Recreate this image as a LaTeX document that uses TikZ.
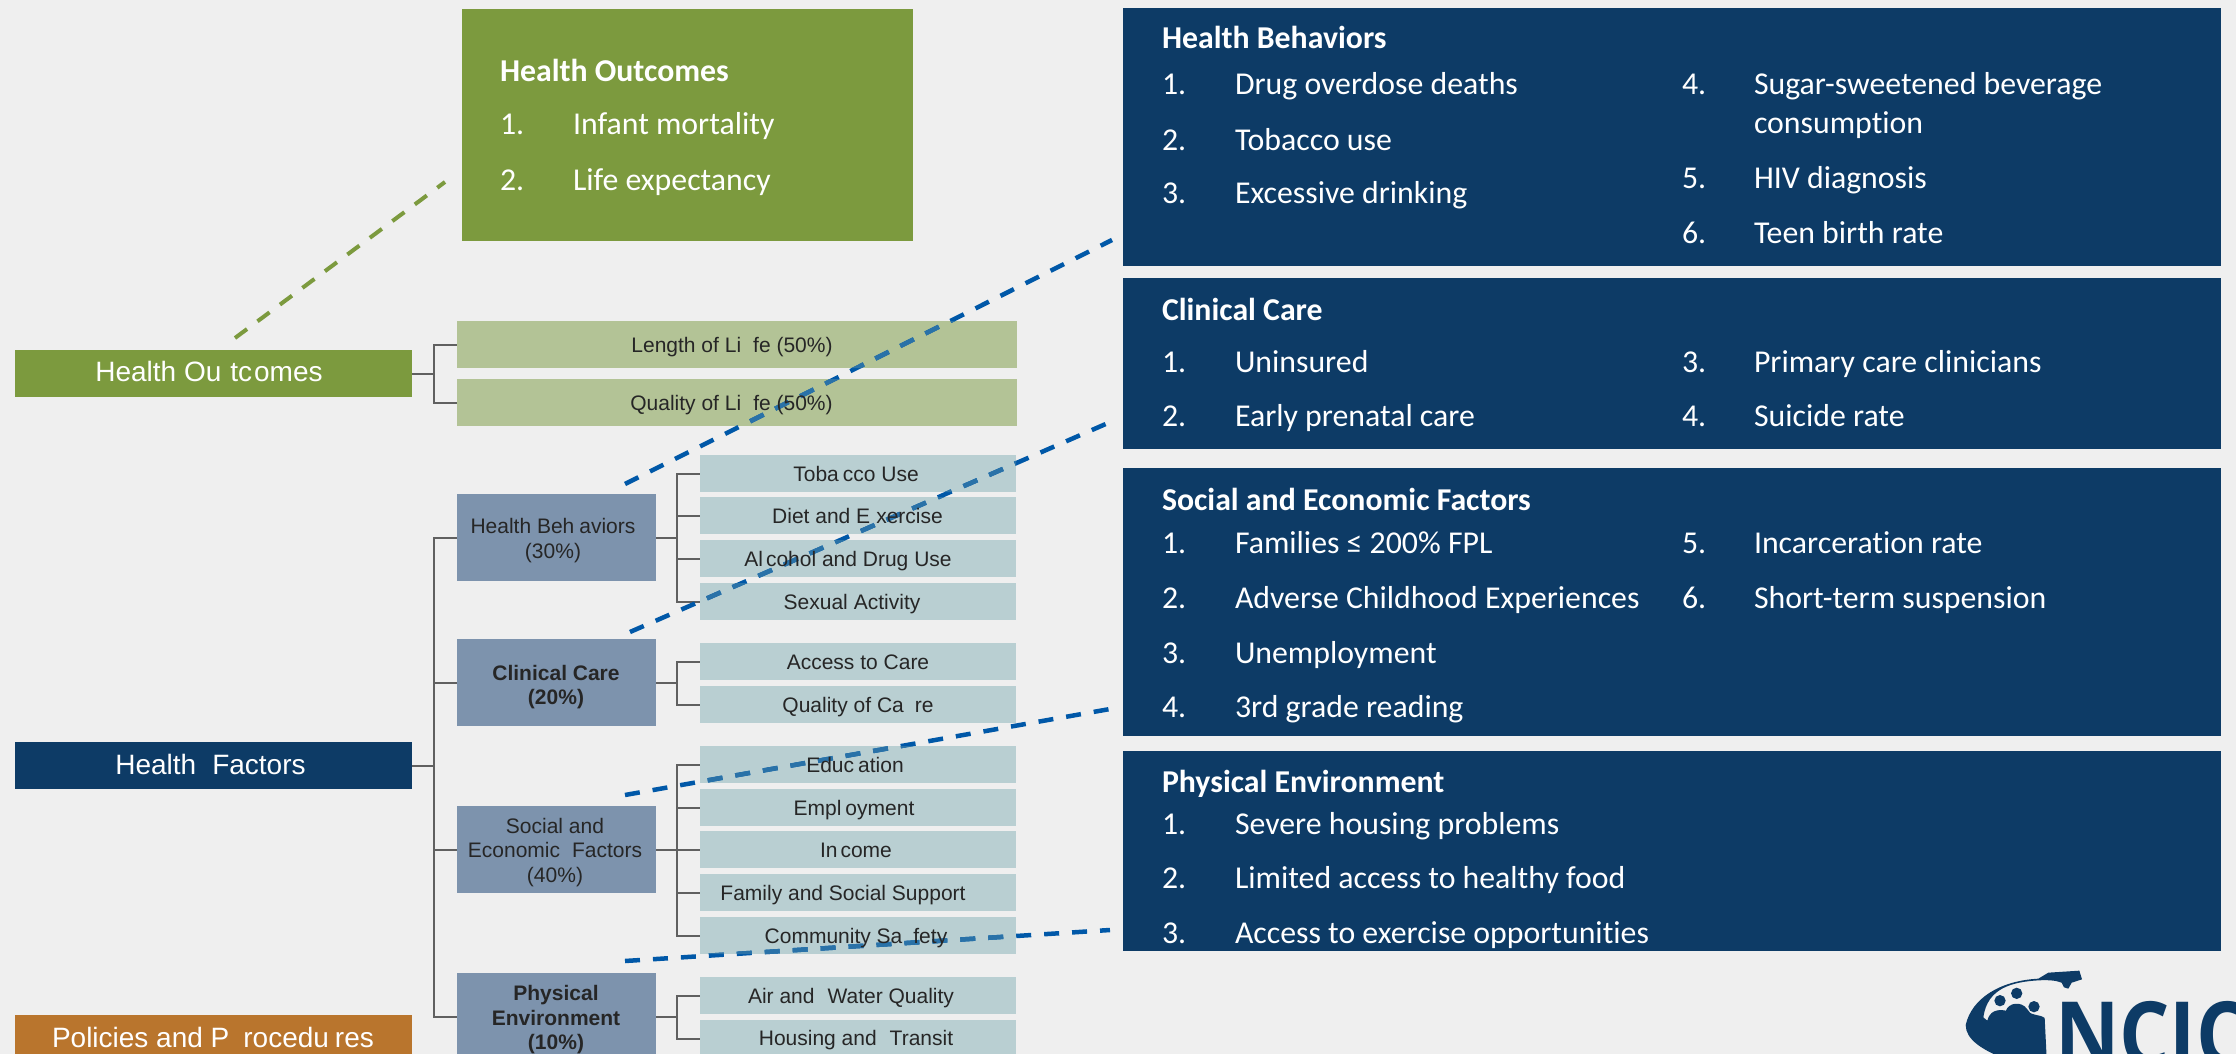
\documentclass[tikz,border=0pt]{standalone}
\usepackage{fontspec}
\setmainfont{Liberation Sans}
\newfontfamily\calib[Ligatures=NoCommon]{Carlito}
\newfontfamily\logofont{Open Sans}
\definecolor{bgc}{HTML}{EFEFEF}
\definecolor{greenc}{HTML}{7C9A3E}
\definecolor{lgreen}{HTML}{B3C396}
\definecolor{navy}{HTML}{0D3B66}
\definecolor{midblue}{HTML}{7D93AD}
\definecolor{teal2}{HTML}{B9CFD2}
\definecolor{orangec}{HTML}{B9752D}
\definecolor{linec}{HTML}{606060}
\definecolor{dashc}{HTML}{0058A8}
\definecolor{dashl}{HTML}{2A72A8}
\newcommand{\boxn}[6][]{%
  \pgfmathsetmacro{\bw}{#5-#3}\pgfmathsetmacro{\bh}{#6-#4}%
  \pgfmathsetmacro{\bx}{(#5+#3)/2}\pgfmathsetmacro{\by}{(#6+#4)/2}%
  \node[plainbox,#1,minimum width=\bw pt,minimum height=\bh pt] (#2) at (\bx,\by) {};}
\newcommand{\clipboxes}{\clip
  (lol.north west) rectangle (lol.south east)
  (qol.north west) rectangle (qol.south east)
  (s1.north west) rectangle (s1.south east)
  (s2.north west) rectangle (s2.south east)
  (s3.north west) rectangle (s3.south east)
  (s4.north west) rectangle (s4.south east)
  (s5.north west) rectangle (s5.south east)
  (s6.north west) rectangle (s6.south east)
  (s7.north west) rectangle (s7.south east)
  (s8.north west) rectangle (s8.south east)
  (s9.north west) rectangle (s9.south east)
  (s10.north west) rectangle (s10.south east)
  (s11.north west) rectangle (s11.south east)
  (s12.north west) rectangle (s12.south east)
  (s13.north west) rectangle (s13.south east);}
\tikzset{
  plainbox/.style={inner sep=0pt,outer sep=0pt,draw=none},
  conn/.style={draw=linec,line width=2pt},
  bluedash/.style={line width=4.5pt,dash pattern=on 15pt off 13pt},
  greendash/.style={draw=greenc,line width=4pt,dash pattern=on 15pt off 13pt},
  lab/.style={inner sep=0pt,outer sep=0pt,anchor=mid,yshift=-4.5pt,text=black!85,font=\fontsize{21}{25}\selectfont},
  wlab/.style={inner sep=0pt,outer sep=0pt,anchor=mid,yshift=-6pt,text=white,font=\fontsize{28}{32}\selectfont},
  mlab/.style={inner sep=0pt,outer sep=0pt,anchor=center,align=center,text=black!85,font=\fontsize{21}{24.5}\selectfont},
  hd/.style={inner sep=0pt,outer sep=0pt,anchor=base west,yshift=-1pt,text=white,font=\calib\bfseries\fontsize{31.8}{36}\selectfont},
  it/.style={inner sep=0pt,outer sep=0pt,anchor=base west,text=white,font=\calib\fontsize{31.8}{36}\selectfont}
}
\begin{document}
\begin{tikzpicture}[x=1pt,y=-1pt]
\useasboundingbox (0,0) rectangle (2236,1054);
\fill[bgc] (0,0) rectangle (2236,1054);

% panels
\boxn[fill=greenc]{pHO}{462}{9}{913}{241}
\boxn[fill=navy]{pHB}{1123}{8}{2221}{266}
\boxn[fill=navy]{pCC}{1123}{278}{2221}{449}
\boxn[fill=navy]{pSE}{1123}{468}{2221}{736}
\boxn[fill=navy]{pPE}{1123}{751}{2221}{951}

% left bars
\boxn[fill=greenc]{bHO}{15}{350}{412}{397}
\boxn[fill=navy]{bHF}{15}{742}{412}{789}
\boxn[fill=orangec]{bPP}{15}{1015}{412}{1062}

% outcomes
\boxn[fill=lgreen]{lol}{457}{321}{1017}{368}
\boxn[fill=lgreen]{qol}{457}{379}{1017}{426}

% factors
\boxn[fill=midblue]{hb}{457}{494}{656}{581}
\boxn[fill=midblue]{cc}{457}{639}{656}{726}
\boxn[fill=midblue]{se}{457}{806}{656}{893}
\boxn[fill=midblue]{pe}{457}{973}{656}{1060}

% sub-boxes
\boxn[fill=teal2]{s1}{700}{455}{1016}{492}
\boxn[fill=teal2]{s2}{700}{497}{1016}{534}
\boxn[fill=teal2]{s3}{700}{540}{1016}{577}
\boxn[fill=teal2]{s4}{700}{583}{1016}{620}
\boxn[fill=teal2]{s5}{700}{643}{1016}{680}
\boxn[fill=teal2]{s6}{700}{686}{1016}{723}
\boxn[fill=teal2]{s7}{700}{746}{1016}{783}
\boxn[fill=teal2]{s8}{700}{789}{1016}{826}
\boxn[fill=teal2]{s9}{700}{831}{1016}{868}
\boxn[fill=teal2]{s10}{700}{874}{1016}{911}
\boxn[fill=teal2]{s11}{700}{917}{1016}{954}
\boxn[fill=teal2]{s12}{700}{977}{1016}{1014}
\boxn[fill=teal2]{s13}{700}{1020}{1016}{1057}

% tree connectors
\foreach \t in {lol,qol} \draw[conn] (bHO.east) -- ++(22,0) |- (\t.west);
\foreach \t in {hb,cc,se,pe} \draw[conn] (bHF.east) -- ++(22,0) |- (\t.west);
\foreach \t in {s1,s2,s3,s4} \draw[conn] (hb.east) -- ++(21,0) |- (\t.west);
\foreach \t in {s5,s6} \draw[conn] (cc.east) -- ++(21,0) |- (\t.west);
\foreach \t in {s7,s8,s9,s10,s11} \draw[conn] (se.east) -- ++(21,0) |- (\t.west);
\foreach \t in {s12,s13} \draw[conn] (pe.east) -- ++(21,0) |- (\t.west);

% dashed leaders
\coordinate (g1) at (235,338); \coordinate (g2) at (445,182);
\coordinate (a1) at (625,484); \coordinate (a2) at (1112,240);
\coordinate (b1) at (630,632); \coordinate (b2) at (1108,423);
\coordinate (c1) at (625,795); \coordinate (c2) at (1110,709);
\coordinate (d1) at (625,961); \coordinate (d2) at (1110,930);
\draw[greendash] (g1) -- (g2);
\draw[bluedash,draw=dashc] (a1) -- (a2);
\draw[bluedash,draw=dashc] (b1) -- (b2);
\draw[bluedash,draw=dashc] (c1) -- (c2);
\draw[bluedash,draw=dashc] (d1) -- (d2);
\begin{scope}
\clipboxes
\draw[bluedash,draw=dashl] (a1) -- (a2);
\draw[bluedash,draw=dashl] (b1) -- (b2);
\draw[bluedash,draw=dashl] (c1) -- (c2);
\draw[bluedash,draw=dashl] (d1) -- (d2);
\end{scope}

% labels, left
\node[wlab] (tHO) at (209,373) {Health Ou\kern9pt tc\kern2pt omes};
\node[wlab] (tHF) at (210.5,766) {Health\kern16pt Factors};
\node[wlab] (tPP) at (213,1039) {Policies and P\kern14pt rocedu\kern6pt res};
\node[lab] (tlol) at (732,345) {Length of Li\kern12pt fe (50\%)};
\node[lab] (tqol) at (731.5,403) {Quality of Li\kern12pt fe (50\%)};
\node[mlab] (thb) at (553,540.5) {Health Beh\kern5pt aviors\\(30\%)};
\node[mlab] (tcc) at (556,687) {\bfseries Clinical Care\\\bfseries (20\%)};
\node[mlab] (tse) at (555,852.5) {Social and\\Economic\kern12pt Factors\\(40\%)};
\node[mlab] (tpe) at (556,1020) {\bfseries Physical\\\bfseries Environment\\\bfseries (10\%)};
\node[lab] (t1) at (856,474) {Toba\kern4pt cco Use};
\node[lab] (t2) at (857.5,516) {Diet and E\kern6pt xercise};
\node[lab] (t3) at (848,559) {Al\kern3pt cohol and Drug Use};
\node[lab] (t4) at (852,602) {Sexual\kern6pt Activity};
\node[lab] (t5) at (858,662) {Access to Care};
\node[lab] (t6) at (858,705) {Quality of Ca\kern11pt re};
\node[lab] (t7) at (855,765) {Educ\kern4pt ation};
\node[lab] (t8) at (854,808) {Empl\kern4pt oyment};
\node[lab] (t9) at (856,850) {In\kern3pt come};
\node[lab] (t10) at (843,893) {Family and Social Support};
\node[lab] (t11) at (856,936) {Community Sa\kern11pt fety};
\node[lab] (t12) at (851,996) {Air and\kern13pt Water Quality};
\node[lab] (t13) at (856,1038) {Housing and\kern13pt Transit};

% top green panel
\node[hd] (h0) at (500,81) {Health Outcomes};
\node[it] (n01) at (500,135) {1.};
\node[it] (i01) at (573,135) {Infant mortality};
\node[it] (n02) at (500,190) {2.};
\node[it] (i02) at (573,190) {Life expectancy};

% Health Behaviors
\node[hd] (h1) at (1162,48) {Health Behaviors};
\node[it] (n11) at (1162,95) {1.};
\node[it] (i11) at (1235,95) {Drug overdose deaths};
\node[it] (n12) at (1162,150) {2.};
\node[it] (i12) at (1235,150) {Tobacco use};
\node[it] (n13) at (1162,204) {3.};
\node[it] (i13) at (1235,204) {Excessive drinking};
\node[it] (n14) at (1682,95) {4.};
\node[it] (i14) at (1754,95) {Sugar-sweetened beverage};
\node[it] (i14b) at (1754,134) {consumption};
\node[it] (n15) at (1682,188) {5.};
\node[it] (i15) at (1754,188) {HIV diagnosis};
\node[it] (n16) at (1682,243) {6.};
\node[it] (i16) at (1754,243) {Teen birth rate};

% Clinical Care
\node[hd] (h2) at (1162,319) {Clinical Care};
\node[it] (n21) at (1162,372) {1.};
\node[it] (i21) at (1235,372) {Uninsured};
\node[it] (n22) at (1162,426) {2.};
\node[it] (i22) at (1235,426) {Early prenatal care};
\node[it] (n23) at (1682,372) {3.};
\node[it] (i23) at (1754,372) {Primary care clinicians};
\node[it] (n24) at (1682,426) {4.};
\node[it] (i24) at (1754,426) {Suicide rate};

% Social and Economic
\node[hd] (h3) at (1162,509) {Social and Economic Factors};
\node[it] (n31) at (1162,553) {1.};
\node[it] (i31) at (1235,553) {Families ≤ 200\% FPL};
\node[it] (n32) at (1162,608) {2.};
\node[it] (i32) at (1235,608) {Adverse Childhood Experiences};
\node[it] (n33) at (1162,663) {3.};
\node[it] (i33) at (1235,663) {Unemployment};
\node[it] (n34) at (1162,717) {4.};
\node[it] (i34) at (1235,717) {3rd grade reading};
\node[it] (n35) at (1682,553) {5.};
\node[it] (i35) at (1754,553) {Incarceration rate};
\node[it] (n36) at (1682,608) {6.};
\node[it] (i36) at (1754,608) {Short-term suspension};

% Physical Environment
\node[hd] (h4) at (1162,791) {Physical Environment};
\node[it] (n41) at (1162,834) {1.};
\node[it] (i41) at (1235,834) {Severe housing problems};
\node[it] (n42) at (1162,888) {2.};
\node[it] (i42) at (1235,888) {Limited access to healthy food};
\node[it] (n43) at (1162,943) {3.};
\node[it] (i43) at (1235,943) {Access to exercise opportunities};

% logo
\begin{scope}
\clip (0,0) rectangle (2236,1054);
\begin{scope}[shift={(1900,930)},x=0.33333pt,y=-0.33333pt]
\fill[navy] (197,285) .. controls (215,205) and (300,152) .. (415,146)
  -- (445,128) -- (538,122) -- (546,148) -- (515,158) -- (505,176) -- (492,172) -- (485,158)
  .. controls (465,150) and (440,150) .. (415,151)
  .. controls (340,156) and (262,172) .. (250,262)
  -- (262,272) .. controls (268,245) and (290,236) .. (318,242)
  .. controls (325,218) and (365,212) .. (382,238)
  .. controls (388,258) and (420,252) .. (434,264)
  -- (440,385) -- (310,385) .. controls (250,360) and (197,330) .. (197,285) -- cycle;
\fill[navy] (300,212) circle[radius=17];
\fill[navy] (350,190) circle[radius=17];
\fill[navy] (402,230) circle[radius=17];
\end{scope}
\node[inner sep=0pt,outer sep=0pt,anchor=base west,text=navy,xscale=.88,font=\logofont\bfseries\fontsize{90}{96}\selectfont] (logo) at (2055,1066) {NCIC};
\end{scope}
\end{tikzpicture}
\end{document}
